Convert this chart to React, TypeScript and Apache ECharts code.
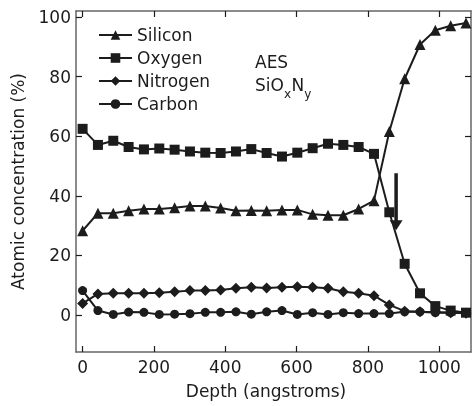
import React, { useEffect, useRef } from "react";
import * as echarts from "echarts";

const depth = [0, 43, 86, 129, 172, 215, 258, 301, 344, 387, 430, 473, 516, 559, 602, 645, 688, 731, 774, 817, 860, 903, 946, 989, 1032, 1075];
const silicon = [28.3, 34.2, 34.2, 35.0, 35.6, 35.6, 36.0, 36.6, 36.6, 35.9, 35.0, 35.1, 35.0, 35.3, 35.3, 33.8, 33.5, 33.5, 35.6, 38.4, 61.6, 79.3, 90.8, 95.6, 97.1, 98.0];
const oxygen = [62.5, 57.1, 58.5, 56.4, 55.6, 55.9, 55.5, 54.9, 54.5, 54.4, 54.9, 55.7, 54.4, 53.2, 54.5, 56.0, 57.5, 57.1, 56.4, 54.1, 34.5, 17.2, 7.3, 3.0, 1.5, 0.8];
const nitrogen = [3.9, 7.1, 7.3, 7.3, 7.3, 7.5, 7.8, 8.2, 8.2, 8.4, 9.0, 9.3, 9.1, 9.3, 9.5, 9.3, 9.0, 7.8, 7.3, 6.5, 3.4, 1.3, 1.1, 1.0, 0.8, 0.6];
const carbon = [8.2, 1.5, 0.2, 1.0, 0.9, 0.2, 0.3, 0.45, 0.9, 0.9, 1.1, 0.3, 1.1, 1.5, 0.2, 0.8, 0.2, 0.8, 0.5, 0.5, 0.5, 1.1, 1.1, 0.8, 0.8, 0.8];
const xTicks = [0, 200, 400, 600, 800, 1000];
const yTicks = [0, 20, 40, 60, 80, 100];
const seriesNames = ["Silicon", "Oxygen", "Nitrogen", "Carbon"];
const formulaParts: [string, boolean][] = [["SiO", false], ["x", true], ["N", false], ["y", true]];
const arrowX = 879;
const arrowTop = 47.6;
const arrowTip = 28.5;

const FONT = "DejaVu Sans";
const INK = "#1c1c1c";
const AXIS = "#666666";

function pairs(vals: number[]) {
  return depth.map((d, i) => [d, vals[i]]);
}

function measure(text: string, size: number) {
  const c = document.createElement("canvas").getContext("2d");
  if (!c) return text.length * size * 0.6;
  c.font = `${size}px "${FONT}"`;
  return c.measureText(text).width;
}

export default function App() {
  const ref = useRef<HTMLDivElement>(null);
  useEffect(() => {
    if (!ref.current) return;
    const chart = echarts.init(ref.current, null, { renderer: "svg" });
    const axisCommon = {
      axisLine: { show: true, onZero: false, lineStyle: { color: AXIS, width: 1.5 } },
      splitLine: { show: false },
    };
    const tickStyle = { show: true, inside: true, length: 6, lineStyle: { color: INK, width: 1.2 } };
    const fmt = (v: number) => String(v);
    const mk = (name: string, vals: number[], symbol: string, size: number) => ({
      type: "line",
      name,
      data: pairs(vals),
      symbol,
      symbolSize: size,
      showAllSymbol: true,
      lineStyle: { color: INK, width: 2 },
      itemStyle: { color: INK },
      xAxisIndex: 0,
      yAxisIndex: 0,
    });
    chart.setOption({
      animation: false,
      textStyle: { fontFamily: FONT },
      grid: { left: 76, right: 1, top: 11, bottom: 54 },
      legend: {
        orient: "vertical",
        left: 98,
        top: 26.5,
        padding: 0,
        itemWidth: 33,
        itemHeight: 12,
        itemGap: 6,
        data: seriesNames,
        textStyle: { fontFamily: FONT, fontSize: 17, color: INK },
      },
      xAxis: [
        {
          type: "value",
          position: "bottom",
          min: -18.5,
          max: 1089,
          ...axisCommon,
          axisTick: { ...tickStyle, customValues: xTicks },
          axisLabel: { customValues: xTicks, formatter: fmt, fontFamily: FONT, fontSize: 17, color: INK, margin: 6 },
          name: "Depth (angstroms)",
          nameLocation: "middle",
          nameGap: 30,
          nameTextStyle: { fontFamily: FONT, fontSize: 17, color: INK, padding: [0, 15, 0, 0] },
        },
        {
          type: "value",
          position: "top",
          min: -18.5,
          max: 1089,
          ...axisCommon,
          axisTick: { ...tickStyle, customValues: xTicks },
          axisLabel: { show: false, customValues: xTicks },
        },
      ],
      yAxis: [
        {
          type: "value",
          position: "left",
          min: -12.4,
          max: 102.05,
          ...axisCommon,
          axisTick: { ...tickStyle, customValues: yTicks },
          axisLabel: { customValues: yTicks, formatter: fmt, fontFamily: FONT, fontSize: 17, color: INK, margin: 5 },
          name: "Atomic concentration (%)",
          nameLocation: "middle",
          nameGap: 50,
          nameTextStyle: { fontFamily: FONT, fontSize: 17, color: INK },
        },
        {
          type: "value",
          position: "right",
          min: -12.4,
          max: 102.05,
          ...axisCommon,
          axisTick: { ...tickStyle, customValues: yTicks },
          axisLabel: { show: false, customValues: yTicks },
        },
      ],
      series: [
        mk(seriesNames[0], silicon, "triangle", 11),
        mk(seriesNames[1], oxygen, "rect", 10),
        mk(seriesNames[2], nitrogen, "diamond", 11),
        mk(seriesNames[3], carbon, "circle", 9),
        { type: "line", data: [], xAxisIndex: 1, yAxisIndex: 1, silent: true },
      ],
    });
    const pTop = chart.convertToPixel({ gridIndex: 0 }, [arrowX, arrowTop]) as number[];
    const pTip = chart.convertToPixel({ gridIndex: 0 }, [arrowX, arrowTip]) as number[];

    const formulaTexts: any[] = [];
    let fx = 255;
    for (const [txt, sub] of formulaParts) {
      const size = sub ? 12 : 17;
      formulaTexts.push({
        type: "text",
        x: fx,
        y: sub ? 93.5 : 85,
        style: { text: txt, fontFamily: FONT, fontSize: size, fill: INK, verticalAlign: "middle", align: "left" },
      });
      fx += measure(txt, size) + (sub ? 0.5 : 0);
    }

    chart.setOption({
      graphic: [
        {
          type: "text",
          left: 255,
          top: 53,
          style: { text: "AES", fontFamily: FONT, fontSize: 17, fill: INK },
        },
        ...formulaTexts,
        {
          type: "line",
          shape: { x1: pTop[0], y1: pTop[1], x2: pTip[0], y2: pTip[1] - 8 },
          style: { stroke: INK, lineWidth: 3.5 },
        },
        {
          type: "polygon",
          shape: {
            points: [
              [pTip[0] - 6.5, pTip[1] - 10],
              [pTip[0] + 6.5, pTip[1] - 10],
              [pTip[0], pTip[1]],
            ],
          },
          style: { fill: INK },
        },
      ],
    });
    return () => chart.dispose();
  }, []);
  return <div ref={ref} style={{ position: "fixed", left: 0, top: 0, width: 472, height: 406 }} />;
}
